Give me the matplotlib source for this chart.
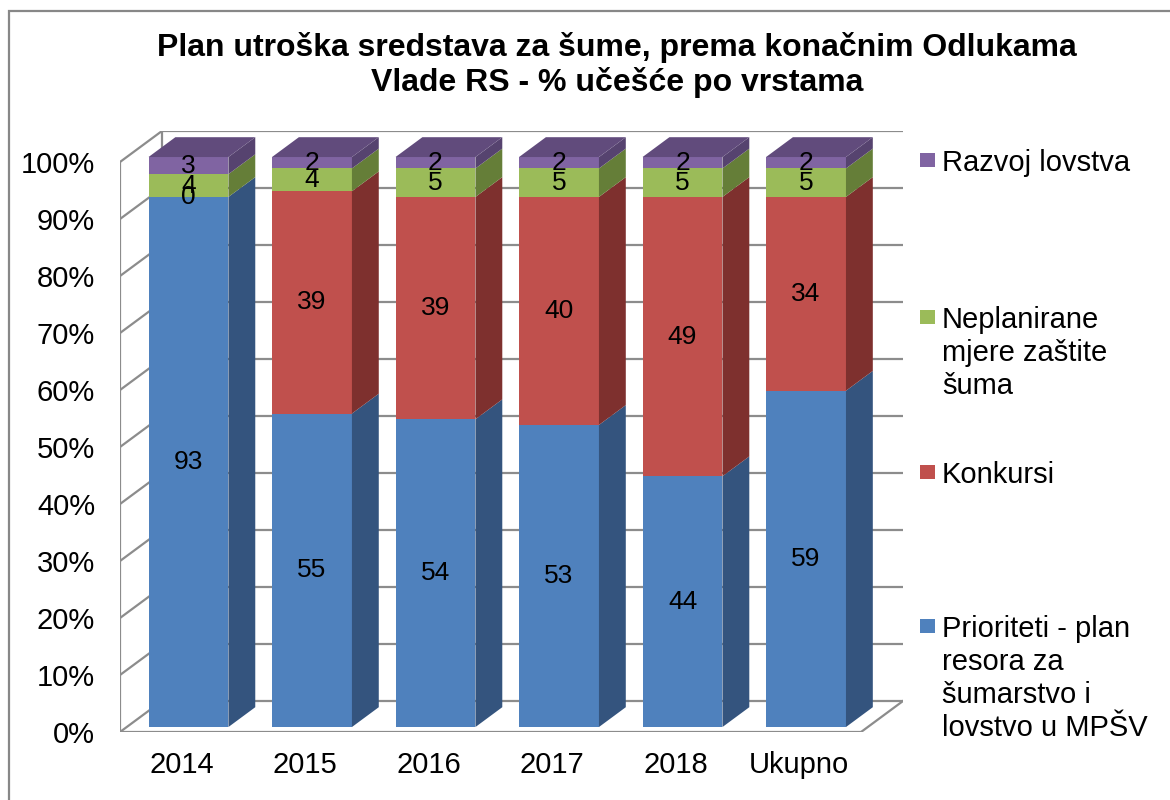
import numpy as np
import matplotlib.pyplot as plt
from matplotlib.patches import Polygon, Rectangle

plt.rcParams['font.family'] = ['Liberation Sans', 'DejaVu Sans']

categories = ['2014', '2015', '2016', '2017', '2018', 'Ukupno']
prioriteti = [93, 55, 54, 53, 44, 59]
konkursi = [0, 39, 39, 40, 49, 34]
neplanirane = [4, 4, 5, 5, 5, 5]
razvoj = [3, 2, 2, 2, 2, 2]

series = [prioriteti, konkursi, neplanirane, razvoj]
front_cols = ['#4F81BD', '#C0504D', '#9BBB59', '#8064A2']
side_cols = ['#34547E', '#7E302E', '#657E38', '#56436F']
top_col = '#614B7C'

W, H = 1170, 800
fig = plt.figure(figsize=(W / 100, H / 100), dpi=100)

# axes box in pixels: front plane 0..100% and back wall offset
ax = fig.add_axes([120 / W, (H - 732) / H, 783 / W, 601 / H])
DX = 42 / 123.67   # depth offset in category units
DY = 31 / 5.7      # depth offset in percent units
ax.set_xlim(-0.5, 5.5 + DX)
ax.set_ylim(0, 100 + DY)
for s in ax.spines.values():
    s.set_visible(False)

grid_c = '#8C8C8C'
glw = 1.6
for k in range(0, 101, 10):
    ax.plot([-0.5, -0.5 + DX], [k, k + DY], color=grid_c, lw=glw, zorder=1)
    ax.plot([-0.5 + DX, 5.5 + DX], [k + DY, k + DY], color=grid_c, lw=glw, zorder=1)
ax.plot([-0.5, 5.5], [0, 0], color=grid_c, lw=glw, zorder=1)
ax.plot([5.5, 5.5 + DX], [0, DY], color=grid_c, lw=glw, zorder=1)
ax.plot([-0.5, -0.5], [0, 100], color=grid_c, lw=glw, zorder=1)
ax.plot([-0.5 + DX, -0.5 + DX], [DY, 100 + DY], color=grid_c, lw=glw, zorder=1)

# bars: front at 16% of depth, back at 80%
f0, f1 = 0.16, 0.80
bw = 0.647
x = np.arange(len(categories))
ox, oy = f0 * DX, f0 * DY
dx, dy = (f1 - f0) * DX, (f1 - f0) * DY

bottom = np.zeros(len(categories))
for vals, fc, sc in zip(series, front_cols, side_cols):
    vals = np.array(vals, dtype=float)
    ax.bar(x + ox, vals, bottom=bottom + oy, width=bw, color=fc, lw=0, zorder=3)
    for i in range(len(categories)):
        b = bottom[i] + oy
        t = b + vals[i]
        xr = x[i] + bw / 2 + ox
        if vals[i] > 0:
            ax.add_patch(Polygon([(xr, b), (xr + dx, b + dy), (xr + dx, t + dy), (xr, t)],
                                 closed=True, facecolor=sc, lw=0, zorder=3))
        ax.text(x[i] + ox, b + vals[i] / 2, '%d' % vals[i], ha='center', va='center',
                fontsize=19, color='black', zorder=5)
    bottom = bottom + vals

for i in range(len(categories)):
    T = bottom[i] + oy
    xl = x[i] - bw / 2 + ox
    xr = x[i] + bw / 2 + ox
    ax.add_patch(Polygon([(xl, T), (xr, T), (xr + dx, T + dy), (xl + dx, T + dy)],
                         closed=True, facecolor=top_col, lw=0, zorder=3))

ax.set_yticks(range(0, 101, 10))
ax.set_yticklabels(['%d%%' % v for v in range(0, 101, 10)])
ax.set_xticks(x)
ax.set_xticklabels(categories)
ax.tick_params(axis='y', length=0, pad=18, labelsize=21)
ax.tick_params(axis='x', length=0, pad=14, labelsize=21)

# title
fig.text(617 / W, 1 - 65 / H, 'Plan utroška sredstava za šume, prema konačnim Odlukama\nVlade RS - % učešće po vrstama',
         ha='center', va='center', fontsize=23, fontweight='bold', linespacing=1.18)

# legend
legend_items = [
    ('Razvoj lovstva', 160, front_cols[3]),
    ('Neplanirane\nmjere zaštite\nšuma', 317, front_cols[2]),
    ('Konkursi', 472, front_cols[1]),
    ('Prioriteti - plan\nresora za\nšumarstvo i\nlovstvo u MPŠV', 626, front_cols[0]),
]
for label, yc, col in legend_items:
    fig.patches.append(Rectangle(((927 - 7.5) / W, 1 - (yc + 7) / H), 15 / W, 14 / H,
                                 transform=fig.transFigure, facecolor=col, lw=0))
    fig.text(942 / W, 1 - (yc - 11) / H, label, ha='left', va='top', fontsize=21,
             linespacing=1.22)

# outer border
fig.patches.append(Rectangle((9 / W, -0.1), (1180 - 9) / W, 1.1 - 11 / H,
                             transform=fig.transFigure, fill=False,
                             edgecolor='#878787', lw=1.6))

fig.savefig('out.png', dpi=100)
